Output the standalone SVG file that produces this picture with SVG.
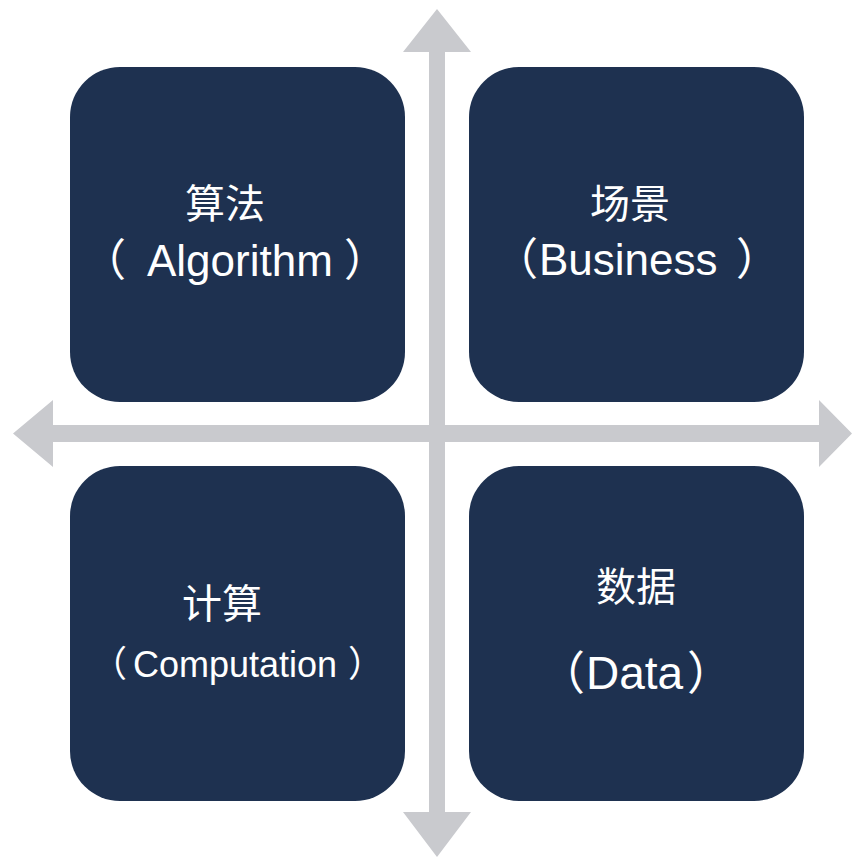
<svg xmlns="http://www.w3.org/2000/svg" width="852" height="858" viewBox="0 0 852 858">
<style>
.box{fill:#1e3150}
.axis{fill:#c9cace}
.cn{font-family:"Noto Sans CJK SC","Noto Sans",sans-serif;fill:#ffffff;font-size:40px}
.en{font-family:"Liberation Sans",Arial,sans-serif;fill:#ffffff}
.par{font-family:"Noto Sans CJK SC",sans-serif}
</style>
<rect width="852" height="858" fill="#ffffff"/>
<g id="connectors">
<polygon class="axis" points="437,9 471,52 445,52 445,812 471,812 437,857 403,812 429,812 429,52 403,52"/>
<polygon class="axis" points="13,433.5 53,400 53,425 819,425 819,400 852,433.5 819,467 819,442 53,442 53,467"/>
</g>
<g id="algorithm">
<rect class="box" x="70" y="67" width="335" height="335" rx="50"/>
<text class="cn" x="225" y="218" text-anchor="middle">算法</text>
<text class="en" y="276" font-size="44"><tspan class="par" x="82">（</tspan><tspan x="147">Algorithm</tspan><tspan class="par" x="344">）</tspan></text>
</g>
<g id="business">
<rect class="box" x="469" y="67" width="335" height="335" rx="50"/>
<text class="cn" x="630" y="218" text-anchor="middle">场景</text>
<text class="en" y="275" font-size="44"><tspan class="par" x="494">（</tspan><tspan x="539">Business</tspan><tspan class="par" x="736">）</tspan></text>
</g>
<g id="computation">
<rect class="box" x="70" y="466" width="335" height="335" rx="50"/>
<text class="cn" x="222" y="618" text-anchor="middle">计算</text>
<text class="en" y="677" font-size="36"><tspan class="par" x="91">（</tspan><tspan x="133">Computation</tspan><tspan class="par" x="348">）</tspan></text>
</g>
<g id="data">
<rect class="box" x="469" y="466" width="335" height="335" rx="50"/>
<text class="cn" x="636" y="601" text-anchor="middle">数据</text>
<text class="en" y="689" font-size="46"><tspan class="par" x="539">（</tspan><tspan x="586">Data</tspan><tspan class="par" x="687">）</tspan></text>
</g>
</svg>
